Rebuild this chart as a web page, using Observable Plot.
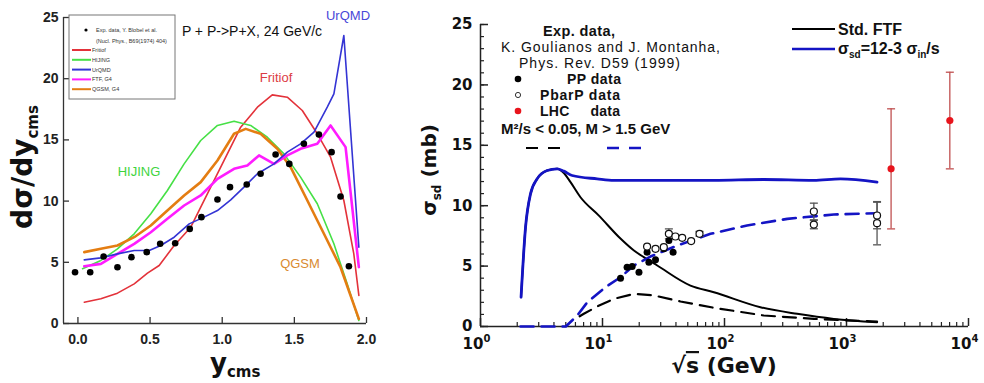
<!DOCTYPE html>
<html><head><meta charset="utf-8">
<script src="https://cdn.jsdelivr.net/npm/d3@7"></script>
<script src="https://cdn.jsdelivr.net/npm/@observablehq/plot@0.6"></script>
<style>
html,body{margin:0;padding:0;background:#fff;}
#wrap{position:relative;width:984px;height:383px;overflow:hidden;background:#fff;}
#wrap svg{position:absolute;top:0;overflow:visible;}
</style></head><body><div id="wrap"></div>
<script>
// ---------------- Left panel data (y_cms, dσ/dy) ----------------
const expY = [-0.02,0.085,0.178,0.274,0.371,0.477,0.57,0.674,0.775,0.856,0.967,1.054,1.17,1.266,1.37,1.465,1.566,1.67,1.758,1.82,1.878];
const expV = [4.19,4.19,5.47,4.6,5.42,5.83,6.51,6.56,7.73,8.69,10.13,11.14,11.36,12.23,13.81,13.04,14.68,15.44,14.0,10.38,4.68];

const fritiofY = [0.044,0.159,0.274,0.39,0.482,0.563,0.667,0.782,0.897,1.013,1.128,1.244,1.347,1.451,1.555,1.659,1.751,1.843,1.912,1.947];
const fritiofV = [1.74,2.02,2.48,3.24,4.11,4.74,6.37,7.87,10.59,13.32,16.04,17.67,18.68,18.49,17.4,15.5,13.59,10.05,5.69,2.29];

const hijingY = [0.032,0.159,0.274,0.39,0.505,0.62,0.736,0.851,0.967,1.082,1.197,1.313,1.428,1.543,1.659,1.774,1.866,1.947];
const hijingV = [4.47,5.15,6.1,7.33,8.96,10.87,13.04,14.95,16.18,16.53,16.18,15.22,13.86,11.96,9.78,6.51,3.24,0.25];

const urqmdY = [0.044,0.159,0.274,0.39,0.494,0.574,0.667,0.771,0.874,0.967,1.059,1.151,1.244,1.359,1.451,1.543,1.636,1.728,1.774,1.843,1.947];
const urqmdV = [5.2,5.36,5.69,5.96,5.96,6.37,7.05,8.14,8.69,9.23,10.1,11.14,12.23,13.04,14.0,14.68,15.63,17.67,18.76,23.53,6.24];

const ftfY = [0.044,0.159,0.274,0.39,0.505,0.62,0.736,0.851,0.967,1.082,1.174,1.255,1.359,1.451,1.543,1.659,1.751,1.855,1.947];
const ftfV = [4.68,4.87,5.69,6.51,7.46,8.55,9.64,10.46,11.82,12.64,12.91,13.73,13.04,13.73,14.27,14.68,16.18,14.41,4.6];

const qgsmY = [0.044,0.159,0.274,0.39,0.505,0.62,0.736,0.851,0.967,1.082,1.163,1.266,1.382,1.474,1.59,1.705,1.82,1.947];
const qgsmV = [5.83,6.1,6.37,7.05,8.01,9.23,10.46,11.55,13.32,15.5,15.9,15.5,14.27,12.77,10.05,7.33,4.6,0.38];

const leftXTicks = [0, 0.5, 1.0, 1.5, 2.0];
const leftYTicks = [0, 5, 10, 15, 20, 25];

// ---------------- Right panel data (sqrt(s) GeV, sigma_sd mb) ----------------
const sigmaSdS = [2.15,2.34,2.57,2.91,3.52,4.25,4.82,5.64,9.04,12.4,23.2,81.8,209,538,893,1780];
const sigmaSdV = [2.43,8.22,10.98,12.22,12.91,13.05,12.86,12.5,12.22,12.09,12.09,12.09,12.17,12.09,12.22,11.95];

const stdFtfS = [2.15,2.34,2.57,2.91,3.52,4.25,4.82,5.47,6.6,9.3,14.1,18.1,21.8,28.1,52.6,81.8,197,394,787,1780];
const stdFtfV = [2.43,8.22,10.98,12.22,12.91,13.05,12.7,11.95,10.7,9.2,7.26,6.29,5.74,5.05,3.39,2.84,1.6,1.05,0.63,0.36];

const cutFtfS = [6.5,7.03,9.04,12.4,18.1,26.4,43.6,81.8,210,540,1780];
const cutFtfV = [0.85,1.05,1.66,2.29,2.7,2.57,2.07,1.55,0.91,0.63,0.4];

const cutSdS = [2.13,5.0,6.2,7.5,10.6,14.05,18.1,24.7,40.9,76.8,153,327,787,1780];
const cutSdV = [0,0,0.9,2.0,3.26,4.08,5.05,5.79,6.7,7.67,8.36,8.91,9.27,9.38];

const ppS = [14.05,15.9,17.5,19.9,23.2,24,27.2,31.8,35,37.9];
const ppV = [4.0,4.91,4.97,4.5,6.15,5.32,5.52,6.43,7.12,6.15];

const pbarS = [23.2,27.2,31.8,35,39.6,45,53.3,62.4,540,540,1780,1780];
const pbarV = [6.62,6.43,6.57,7.67,7.45,7.34,7.07,7.67,9.52,8.44,9.19,8.55];
const pbarErr = [0,0,0,0.41,0,0,0,0.2,0.69,0.35,1.1,1.79];

const lhcS = [2320, 7030];
const lhcV = [13.05, 17.05];
const lhcErr = [4.97, 4.0];

const rightXTicks = [1, 10, 100, 1000, 10000];
const rightYTicks = [0, 5, 10, 15, 20, 25];

// ---------------- helpers ----------------
const SANS = "'Liberation Sans', Arial, Helvetica, sans-serif";
const WIDE = "'DejaVu Sans', Verdana, sans-serif";
const zip = (xs, ys) => xs.map((x, i) => ({x, y: ys[i]}));
const withErr = (xs, ys, es) => xs.map((x, i) => ({x, y: ys[i], lo: ys[i] - es[i], hi: ys[i] + es[i], e: es[i]}));
const cap = {draw(ctx, size) { const r = Math.sqrt(size / Math.PI); ctx.moveTo(-r, 0); ctx.lineTo(r, 0); }};
const wrap = document.getElementById("wrap");

function txt(svg, o) {
  const t = svg.append("text")
    .attr("x", o.x).attr("y", o.y)
    .attr("font-family", o.family || SANS)
    .attr("font-size", o.size || 14)
    .attr("font-weight", o.weight || "normal")
    .attr("fill", o.fill || "#111")
    .attr("text-anchor", o.anchor || "start");
  if (o.transform) t.attr("transform", o.transform);
  if (o.len) t.attr("textLength", o.len).attr("lengthAdjust", "spacing");
  for (const part of o.parts) {
    const s = t.append("tspan").text(part.t);
    if (part.size) s.attr("font-size", part.size);
    if (part.dy) s.attr("dy", part.dy);
    if (part.deco) s.style("text-decoration", part.deco);
  }
  return t;
}

// ---------------- Left plot ----------------
const LW = 400, LH = 383, LM = {l: 63, r: 34, t: 17, b: 60};
const lfW = LW - LM.l - LM.r, lfH = LH - LM.t - LM.b;
const leftCurves = [
  {data: zip(fritiofY, fritiofV), stroke: "#e3323a", w: 1.6},
  {data: zip(hijingY, hijingV), stroke: "#46e046", w: 1.6},
  {data: zip(qgsmY, qgsmV), stroke: "#e47d12", w: 2.6},
  {data: zip(ftfY, ftfV), stroke: "#ff1cff", w: 2.6},
  {data: zip(urqmdY, urqmdV), stroke: "#3434d4", w: 1.6}
];
const left = Plot.plot({
  width: LW, height: LH,
  marginLeft: LM.l, marginRight: LM.r, marginTop: LM.t, marginBottom: LM.b,
  style: {fontFamily: SANS, fontSize: "14px", fontWeight: "bold", color: "#222", background: "none"},
  x: {domain: [-0.1, 2.0]},
  y: {domain: [0, 25]},
  marks: [
    Plot.ruleX([-0.1], {stroke: "#333", strokeWidth: 1.3}),
    Plot.ruleY([0], {stroke: "#333", strokeWidth: 1.3}),
    Plot.tickX(leftXTicks, {x: d => d, insetTop: lfH - 6, stroke: "#333", strokeWidth: 1.3}),
    Plot.tickY(leftYTicks, {y: d => d, insetRight: lfW - 6, stroke: "#333", strokeWidth: 1.3}),
    Plot.axisX({ticks: leftXTicks, tickSize: 0, tickPadding: 11, tickFormat: d3.format(".1f"), label: null}),
    Plot.axisY({ticks: leftYTicks, tickSize: 0, tickPadding: 5, label: null}),
    ...leftCurves.map(c => Plot.line(c.data, {x: "x", y: "y", stroke: c.stroke, strokeWidth: c.w})),
    Plot.dot(zip(expY, expV), {x: "x", y: "y", r: 3.3, fill: "#000"})
  ]
});
left.style.left = "0px";
wrap.appendChild(left);
const L = d3.select(left);

// axis titles
txt(L, {x: 0, y: 0, family: WIDE, weight: "bold", size: 28, anchor: "middle", fill: "#111",
  transform: "translate(32,167) rotate(-90)",
  parts: [{t: "dσ/dy"}, {t: "cms", size: 15, dy: 6}]});
txt(L, {x: 210, y: 372, family: WIDE, weight: "bold", size: 26, fill: "#111",
  parts: [{t: "y"}, {t: "cms", size: 15, dy: 5}]});
// title and curve labels
txt(L, {x: 252, y: 36, size: 14, anchor: "middle", fill: "#111", parts: [{t: "P + P->P+X, 24 GeV/c"}]});
txt(L, {x: 348, y: 20, size: 13, anchor: "middle", fill: "#4848d8", parts: [{t: "UrQMD"}]});
txt(L, {x: 276, y: 82, size: 13, anchor: "middle", fill: "#dc3c44", parts: [{t: "Fritiof"}]});
txt(L, {x: 139, y: 176, size: 13, anchor: "middle", fill: "#3ed43e", parts: [{t: "HIJING"}]});
txt(L, {x: 300, y: 268, size: 13, anchor: "middle", fill: "#d98a30", parts: [{t: "QGSM"}]});
// legend box
L.append("rect").attr("x", 69).attr("y", 15).attr("width", 106).attr("height", 84)
  .attr("fill", "#fff").attr("stroke", "#777").attr("stroke-width", 1);
L.append("circle").attr("cx", 86).attr("cy", 30).attr("r", 1.6).attr("fill", "#000");
txt(L, {x: 96, y: 32, size: 5.5, fill: "#333", parts: [{t: "Exp. data, Y. Blobel et al."}]});
txt(L, {x: 96, y: 43, size: 5.5, fill: "#333", parts: [{t: "(Nucl. Phys., B69(1974) 404)"}]});
const legNames = ["Fritiof", "HIJING", "UrQMD", "FTF, G4", "QGSM, G4"];
const legCols = ["#e3323a", "#46e046", "#3434d4", "#ff1cff", "#e47d12"];
legNames.forEach((n, i) => {
  const yy = 50 + i * 9.8;
  L.append("line").attr("x1", 72).attr("x2", 91).attr("y1", yy).attr("y2", yy)
    .attr("stroke", legCols[i]).attr("stroke-width", 2);
  txt(L, {x: 92, y: yy + 2, size: 5.5, fill: "#333", parts: [{t: n}]});
});

// ---------------- Right plot ----------------
const RW = 584, RH = 383, RM = {l: 80, r: 16, t: 24, b: 57};
const rfW = RW - RM.l - RM.r, rfH = RH - RM.t - RM.b;
const minorX = [1, 10, 100, 1000].flatMap(d => d3.range(2, 10).map(k => k * d));
const minorY = d3.range(0, 26);
const pbar = withErr(pbarS, pbarV, pbarErr);
const pbarE = pbar.filter(d => d.e > 0);
const lhc = withErr(lhcS, lhcV, lhcErr);
const BLUE = "#1414c4";
const right = Plot.plot({
  width: RW, height: RH,
  marginLeft: RM.l, marginRight: RM.r, marginTop: RM.t, marginBottom: RM.b,
  style: {fontFamily: WIDE, fontSize: "15px", fontWeight: "bold", color: "#111", background: "none"},
  x: {type: "log", domain: [1, 1e4]},
  y: {domain: [0, 25]},
  marks: [
    Plot.ruleX([1], {stroke: "#222", strokeWidth: 1.5}),
    Plot.ruleY([0], {stroke: "#222", strokeWidth: 1.5}),
    Plot.tickX(minorX, {x: d => d, insetTop: rfH - 4, stroke: "#222", strokeWidth: 1.2}),
    Plot.tickX(rightXTicks, {x: d => d, insetTop: rfH - 8, stroke: "#222", strokeWidth: 1.5}),
    Plot.tickY(minorY, {y: d => d, insetRight: rfW - 4, stroke: "#222", strokeWidth: 1.2}),
    Plot.tickY(rightYTicks, {y: d => d, insetRight: rfW - 8, stroke: "#222", strokeWidth: 1.5}),
    Plot.axisX({ticks: rightXTicks, tickSize: 0, tickPadding: 12, dx: -4,
      tickFormat: d => "10", label: null}),
    Plot.axisY({ticks: rightYTicks, tickSize: 0, tickPadding: 8, label: null}),
    Plot.line(zip(cutFtfS, cutFtfV), {x: "x", y: "y", stroke: "#000", strokeWidth: 2.2, strokeDasharray: "13,8"}),
    Plot.line(zip(stdFtfS, stdFtfV), {x: "x", y: "y", stroke: "#000", strokeWidth: 2, curve: "monotone-x"}),
    Plot.line(zip(sigmaSdS, sigmaSdV), {x: "x", y: "y", stroke: BLUE, strokeWidth: 2.8, curve: "monotone-x"}),
    Plot.line(zip(cutSdS, cutSdV), {x: "x", y: "y", stroke: BLUE, strokeWidth: 2.6, strokeDasharray: "13,8"}),
    Plot.ruleX(pbarE, {x: "x", y1: "lo", y2: "hi", stroke: "#555", strokeWidth: 1.3}),
    Plot.dot(pbarE, {x: "x", y: "lo", symbol: cap, r: 4, stroke: "#555", fill: "none", strokeWidth: 1.3}),
    Plot.dot(pbarE, {x: "x", y: "hi", symbol: cap, r: 4, stroke: "#555", fill: "none", strokeWidth: 1.3}),
    Plot.ruleX(lhc, {x: "x", y1: "lo", y2: "hi", stroke: "#c05050", strokeWidth: 1.3}),
    Plot.dot(lhc, {x: "x", y: "lo", symbol: cap, r: 4, stroke: "#c05050", fill: "none", strokeWidth: 1.3}),
    Plot.dot(lhc, {x: "x", y: "hi", symbol: cap, r: 4, stroke: "#c05050", fill: "none", strokeWidth: 1.3}),
    Plot.dot(zip(ppS, ppV), {x: "x", y: "y", r: 3.5, fill: "#000"}),
    Plot.dot(pbar, {x: "x", y: "y", r: 3.5, fill: "#fff", stroke: "#111", strokeWidth: 1.2}),
    Plot.dot(lhc, {x: "x", y: "y", r: 3.6, fill: "#e8141c"})
  ]
});
right.style.left = "400px";
wrap.appendChild(right);
const R = d3.select(right);

// superscript exponents on the log-axis tick labels
R.selectAll('g[aria-label="x-axis tick label"] text').each(function(_, i) {
  const e = Math.round(Math.log10(rightXTicks[i]));
  d3.select(this).append("tspan").attr("font-size", 10).attr("dy", -7).text(e);
});

// axis titles
txt(R, {x: 0, y: 0, family: WIDE, weight: "bold", size: 20, anchor: "middle", fill: "#111",
  transform: "translate(36,170) rotate(-90)",
  parts: [{t: "σ"}, {t: "sd", size: 12, dy: 5}, {t: " (mb)", dy: -5}]});
txt(R, {x: 324, y: 373, family: WIDE, weight: "bold", size: 22, anchor: "middle", fill: "#111",
  parts: [{t: "√"}, {t: "s", deco: "overline"}, {t: " (GeV)"}]});

// data legend (left block)
txt(R, {x: 143, y: 36, size: 14.5, weight: "bold", len: 72, parts: [{t: "Exp. data,"}]});
txt(R, {x: 101, y: 52, size: 14, len: 219, parts: [{t: "K. Goulianos and J. Montanha,"}]});
txt(R, {x: 119, y: 68, size: 14, len: 161, parts: [{t: "Phys. Rev. D59 (1999)"}]});
R.append("circle").attr("cx", 118).attr("cy", 79).attr("r", 3.3).attr("fill", "#000");
txt(R, {x: 167, y: 84, size: 14, weight: "bold", len: 54, parts: [{t: "PP data"}]});
R.append("circle").attr("cx", 118).attr("cy", 95).attr("r", 2.6).attr("fill", "#fff").attr("stroke", "#333").attr("stroke-width", 1);
txt(R, {x: 140, y: 100, size: 14, weight: "bold", len: 80, parts: [{t: "PbarP data"}]});
R.append("circle").attr("cx", 118).attr("cy", 111).attr("r", 3.3).attr("fill", "#e8141c");
txt(R, {x: 140, y: 116, size: 14, weight: "bold", len: 80, parts: [{t: "LHC     data"}]});
txt(R, {x: 101, y: 134, size: 15, weight: "bold", parts: [{t: "M²/s < 0.05, M > 1.5 GeV"}]});
R.append("line").attr("x1", 126).attr("x2", 162).attr("y1", 148).attr("y2", 148)
  .attr("stroke", "#000").attr("stroke-width", 2.2).attr("stroke-dasharray", "12,10");
R.append("line").attr("x1", 207).attr("x2", 242).attr("y1", 148).attr("y2", 148)
  .attr("stroke", BLUE).attr("stroke-width", 2.6).attr("stroke-dasharray", "12,10");

// model legend (right block)
R.append("line").attr("x1", 392).attr("x2", 435).attr("y1", 29).attr("y2", 29).attr("stroke", "#000").attr("stroke-width", 2.2);
txt(R, {x: 438, y: 35, size: 16, weight: "bold", parts: [{t: "Std. FTF"}]});
R.append("line").attr("x1", 392).attr("x2", 435).attr("y1", 49).attr("y2", 49).attr("stroke", BLUE).attr("stroke-width", 2.6);
txt(R, {x: 438, y: 54, size: 16, weight: "bold",
  parts: [{t: "σ"}, {t: "sd", size: 10, dy: 4}, {t: "=12-3 σ", dy: -4}, {t: "in", size: 10, dy: 4}, {t: "/s", dy: -4}]});
</script>
</body></html>
